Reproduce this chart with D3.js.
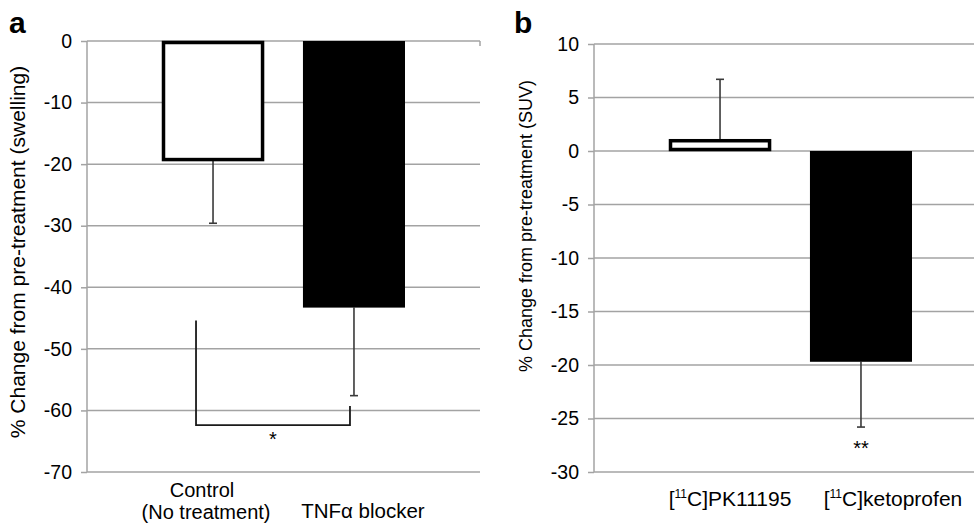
<!DOCTYPE html>
<html>
<head>
<meta charset="utf-8">
<script src="https://cdn.jsdelivr.net/npm/d3@7"></script>
<style>
  body { margin: 0; background: #fff; }
  svg { font-family: Arial, "Liberation Sans", sans-serif; }
</style>
</head>
<body>
<svg id="chart" width="974" height="525"></svg>
<script>
// panel a: swelling
var groupsA = ["Control", "TNFα blocker"];
var meansA = [-19.5, -43.3];
var sdA = [10.1, 14.3];
var ticksA = [0, -10, -20, -30, -40, -50, -60, -70];
// significance bracket (left top, bottom, right top)
var bracketA = [-45.4, -62.4, -59.3];

// panel b: SUV
var groupsB = ["PK11195", "ketoprofen"];
var meansB = [1.1, -19.7];
var sdB = [5.6, 6.1];
var ticksB = [10, 5, 0, -5, -10, -15, -20, -25, -30];

var GRID = "#a3a3a3";
var svg = d3.select("#chart");

function drawPanel(opt) {
  var g = svg.append("g");
  var y = d3.scaleLinear().domain(opt.domain).range(opt.yRange);
  var x = d3.scaleBand().domain(opt.groups).range(opt.xRange).paddingInner(0.276).paddingOuter(0);

  // gridlines
  g.selectAll("line.grid").data(opt.ticks).enter().append("line")
    .attr("class", "grid")
    .attr("x1", opt.axisX).attr("x2", opt.gridEnd)
    .attr("y1", function(d) { return y(d); }).attr("y2", function(d) { return y(d); })
    .attr("stroke", GRID).attr("stroke-width", 1.5);

  // value axis
  var ax = g.append("g").attr("transform", "translate(" + opt.axisX + ",0)")
    .call(d3.axisLeft(y).tickValues(opt.ticks).tickSize(6).tickPadding(9)
      .tickFormat(function(d) { return String(d); }));
  ax.select(".domain").attr("stroke", GRID).attr("stroke-width", 1.5)
    .attr("d", "M0," + y(opt.domain[1]) + "V" + y(opt.domain[0]));
  ax.selectAll(".tick line").attr("stroke", GRID).attr("stroke-width", 1.5);
  ax.selectAll(".tick text").attr("fill", "#000").attr("font-size", 19.5)
    .attr("font-family", "Arial, 'Liberation Sans', sans-serif");

  // error bars (drawn first so bars sit on top)
  var data = opt.groups.map(function(k, i) {
    return { key: k, mean: opt.means[i], sd: opt.sd[i], fill: i === 0 ? "#fff" : "#000" };
  });
  var eb = g.selectAll("g.err").data(data).enter().append("g");
  eb.append("line")
    .attr("x1", function(d) { return x(d.key) + x.bandwidth() / 2; })
    .attr("x2", function(d) { return x(d.key) + x.bandwidth() / 2; })
    .attr("y1", function(d) { return y(d.mean); })
    .attr("y2", function(d) { return y(d.mean >= 0 ? d.mean + d.sd : d.mean - d.sd); })
    .attr("stroke", "#3a3a3a").attr("stroke-width", 1.6);
  eb.append("line")
    .attr("x1", function(d) { return x(d.key) + x.bandwidth() / 2 - 4; })
    .attr("x2", function(d) { return x(d.key) + x.bandwidth() / 2 + 4; })
    .attr("y1", function(d) { return y(d.mean >= 0 ? d.mean + d.sd : d.mean - d.sd); })
    .attr("y2", function(d) { return y(d.mean >= 0 ? d.mean + d.sd : d.mean - d.sd); })
    .attr("stroke", "#3a3a3a").attr("stroke-width", 1.6);

  // bars
  g.selectAll("rect.bar").data(data).enter().append("rect")
    .attr("class", "bar")
    .attr("x", function(d) { return x(d.key) + (d.fill === "#fff" ? 1.5 : 0); })
    .attr("width", function(d) { return x.bandwidth() - (d.fill === "#fff" ? 3 : 0); })
    .attr("y", function(d) { return y(Math.max(0, d.mean)) + (d.fill === "#fff" ? 1.5 : 0); })
    .attr("height", function(d) { return Math.abs(y(d.mean) - y(0)) - (d.fill === "#fff" ? 3 : 0); })
    .attr("fill", function(d) { return d.fill; })
    .attr("stroke", "#000")
    .attr("stroke-width", function(d) { return d.fill === "#fff" ? 3.5 : 0; });

  // axis title
  g.append("text")
    .attr("transform", "translate(" + opt.titleX + "," + opt.titleY + ") rotate(-90)")
    .attr("text-anchor", "middle").attr("font-size", opt.titleSize)
    .text(opt.title);

  // panel letter
  g.append("text").attr("x", opt.letterX).attr("y", 33)
    .attr("font-size", 30).attr("font-weight", "bold").text(opt.letter);

  return { g: g, x: x, y: y };
}

// ---- panel a
var pa = drawPanel({
  groups: groupsA, means: meansA, sd: sdA, ticks: ticksA,
  domain: [-70, 0], yRange: [472, 41], xRange: [162, 405],
  axisX: 87, gridEnd: 480, title: "% Change from pre-treatment (swelling)",
  titleX: 25, titleY: 252, titleSize: 21, letter: "a", letterX: 9
});
// category axis tick at right end
pa.g.append("line").attr("x1", 480).attr("x2", 480)
  .attr("y1", pa.y(0)).attr("y2", pa.y(0) + 5).attr("stroke", GRID).attr("stroke-width", 1.5);

var cxA = function(k) { return pa.x(k) + pa.x.bandwidth() / 2; };
pa.g.append("text").attr("x", cxA("Control") - 11).attr("y", 497)
  .attr("text-anchor", "middle").attr("font-size", 20).text("Control");
pa.g.append("text").attr("x", cxA("Control") - 7).attr("y", 519)
  .attr("text-anchor", "middle").attr("font-size", 20).text("(No treatment)");
pa.g.append("text").attr("x", cxA("TNFα blocker") + 9).attr("y", 518)
  .attr("text-anchor", "middle").attr("font-size", 20.5).text("TNFα blocker");

// bracket
var bx1 = cxA("Control") - 17, bx2 = cxA("TNFα blocker") - 4;
pa.g.append("path")
  .attr("d", "M" + bx1 + "," + pa.y(bracketA[0]) + "V" + pa.y(bracketA[1]) +
    "H" + bx2 + "V" + pa.y(bracketA[2]))
  .attr("fill", "none").attr("stroke", "#1a1a1a").attr("stroke-width", 1.8);
pa.g.append("text").attr("x", (bx1 + bx2) / 2).attr("y", pa.y(bracketA[1]) + 21)
  .attr("text-anchor", "middle").attr("font-size", 20).text("*");

// ---- panel b
var pb = drawPanel({
  groups: groupsB, means: meansB, sd: sdB, ticks: ticksB,
  domain: [-30, 10], yRange: [472, 44], xRange: [669, 912],
  axisX: 594, gridEnd: 974, title: "% Change from pre-treatment (SUV)",
  titleX: 532, titleY: 226, titleSize: 18, letter: "b", letterX: 514
});
var cxB = function(k) { return pb.x(k) + pb.x.bandwidth() / 2; };
var labB = pb.g.selectAll("text.cat").data(groupsB).enter().append("text")
  .attr("class", "cat")
  .attr("x", function(d, i) { return cxB(d) + (i === 0 ? 10 : 32); })
  .attr("y", 506).attr("text-anchor", "middle").attr("font-size", 21);
labB.append("tspan").text("[");
labB.append("tspan").attr("font-size", 12).attr("dy", -8).text("11");
labB.append("tspan").attr("dy", 8).text("C]");
labB.append("tspan").text(function(d) { return d; });

var kEnd = pb.y(meansB[1] - sdB[1]);
pb.g.append("text").attr("x", cxB("ketoprofen")).attr("y", kEnd + 28)
  .attr("text-anchor", "middle").attr("font-size", 20).text("**");
</script>
</body>
</html>
